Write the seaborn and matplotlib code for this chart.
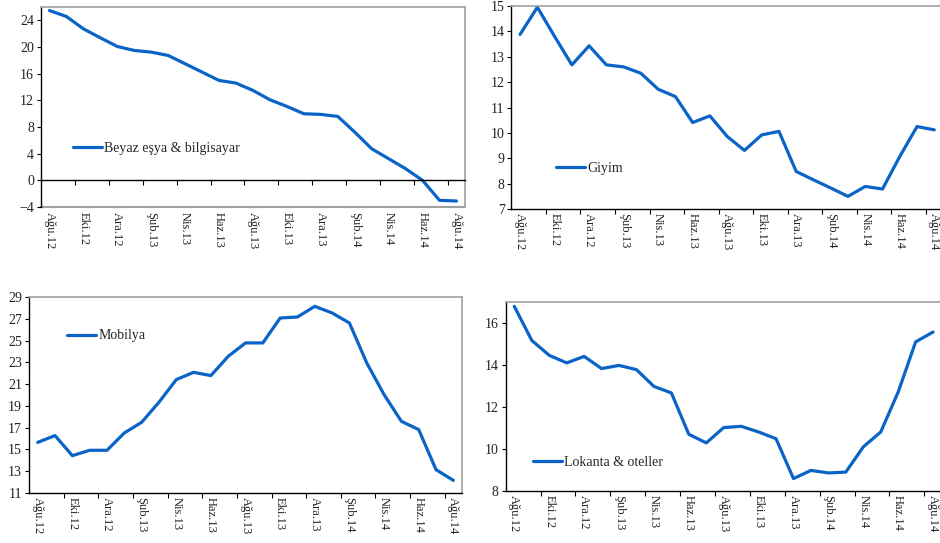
import numpy as np
import pandas as pd
import matplotlib
matplotlib.use('Agg')
import matplotlib.pyplot as plt
import seaborn as sns

sns.set_style('white')
plt.rcParams['font.family'] = ['Liberation Serif', 'DejaVu Serif']

# months Ağu.12 .. Ağu.14 (25 monthly points), labels every 2nd month
months = ['Ağu.12', 'Eyl.12', 'Eki.12', 'Kas.12', 'Ara.12', 'Oca.13', 'Şub.13', 'Mar.13',
          'Nis.13', 'May.13', 'Haz.13', 'Tem.13', 'Ağu.13', 'Eyl.13', 'Eki.13', 'Kas.13',
          'Ara.13', 'Oca.14', 'Şub.14', 'Mar.14', 'Nis.14', 'May.14', 'Haz.14', 'Tem.14', 'Ağu.14']

beyaz = [25.5, 24.6, 22.75, 21.4, 20.1, 19.5, 19.25, 18.75, 17.5, 16.25, 15.0, 14.6, 13.5,
         12.1, 11.1, 10.0, 9.9, 9.6, 7.25, 4.75, 3.25, 1.75, 0.0, -3.0, -3.1]
giyim = [13.88, 14.95, 13.8, 12.68, 13.43, 12.68, 12.6, 12.35, 11.72, 11.43, 10.41, 10.67, 9.86,
         9.31, 9.92, 10.06, 8.48, 8.15, 7.83, 7.5, 7.89, 7.79, 9.07, 10.25, 10.12]
mobilya = [15.65, 16.27, 14.43, 14.92, 14.92, 16.51, 17.49, 19.33, 21.41, 22.08, 21.78, 23.55, 24.78,
           24.78, 27.07, 27.16, 28.14, 27.53, 26.61, 22.94, 20.03, 17.58, 16.82, 13.14, 12.16]
lokanta = [16.79, 15.17, 14.46, 14.1, 14.41, 13.83, 13.98, 13.78, 12.98, 12.67, 10.7, 10.29, 11.02,
           11.08, 10.81, 10.49, 8.59, 8.98, 8.86, 8.9, 10.1, 10.81, 12.71, 15.1, 15.57]

blue = '#0A64C8'
gray = '#A0A0A0'

fig = plt.figure(figsize=(9.4, 5.43), dpi=100)

panels = [
    # name, values, axes rect, ylim, yticks, legend anchor
    ('Beyaz eşya & bilgisayar', beyaz, [0.0436, 0.6188, 0.451, 0.368], (-4, 26), np.arange(-4, 25, 4), (0.0755, 0.295)),
    ('Giyim', giyim, [0.5441, 0.615, 0.459, 0.374], (7, 15), np.arange(7, 16, 1), (0.104, 0.202)),
    ('Mobilya', mobilya, [0.0309, 0.0921, 0.4606, 0.361], (11, 29), np.arange(11, 30, 2), (0.0878, 0.801)),
    ('Lokanta & oteller', lokanta, [0.5379, 0.0958, 0.464, 0.348], (8, 17), np.arange(8, 17, 2), (0.0630, 0.153)),
]

for name, vals, rect, ylim, yticks, anchor in panels:
    ax = fig.add_axes(rect)
    df = pd.DataFrame({'x': np.arange(len(months)), 'y': vals})
    sns.lineplot(data=df, x='x', y='y', ax=ax, color=blue, linewidth=2.3, label=name,
                 solid_joinstyle='round', solid_capstyle='round')
    ax.set_xlim(-0.5, len(months) - 0.5)
    ax.set_ylim(*ylim)
    ax.set_yticks(yticks)
    ax.set_xlabel('')
    ax.set_ylabel('')

    for s in ['top', 'right']:
        ax.spines[s].set_color(gray)
        ax.spines[s].set_linewidth(1.2)
    ax.spines['left'].set_color('black')
    ax.spines['left'].set_linewidth(1.0)
    ax.spines['bottom'].set_color('black')
    ax.spines['bottom'].set_linewidth(1.0)

    xpad = 3
    if ylim[0] < 0:
        # x axis crosses at zero, labels stay at the bottom
        ax.spines['bottom'].set_position(('data', 0))
        ax.axhline(ylim[0], color=gray, linewidth=1.5, clip_on=False, zorder=0)
        xpad = 3 + 27 * 0.72

    ax.set_xticks(np.arange(0, len(months), 2))
    ax.set_xticklabels(months[::2], rotation=-90, fontsize=9, color='#222222')
    ax.set_xticks(np.arange(1.5, len(months) - 1, 2), minor=True)
    ax.tick_params(axis='x', which='major', length=0, pad=xpad, bottom=True)
    ax.tick_params(axis='x', which='minor', length=3.5, width=0.8, color='black',
                   direction='out', bottom=True)
    ax.tick_params(axis='y', length=3, width=0.8, color='black', direction='out', pad=2,
                   labelsize=10, labelcolor='#222222', left=True)

    ax.legend(loc='center left', bbox_to_anchor=anchor, frameon=False, fontsize=10,
              handlelength=2.1, handletextpad=0.15, borderpad=0, borderaxespad=0)

fig.savefig('out.png', dpi=100)
